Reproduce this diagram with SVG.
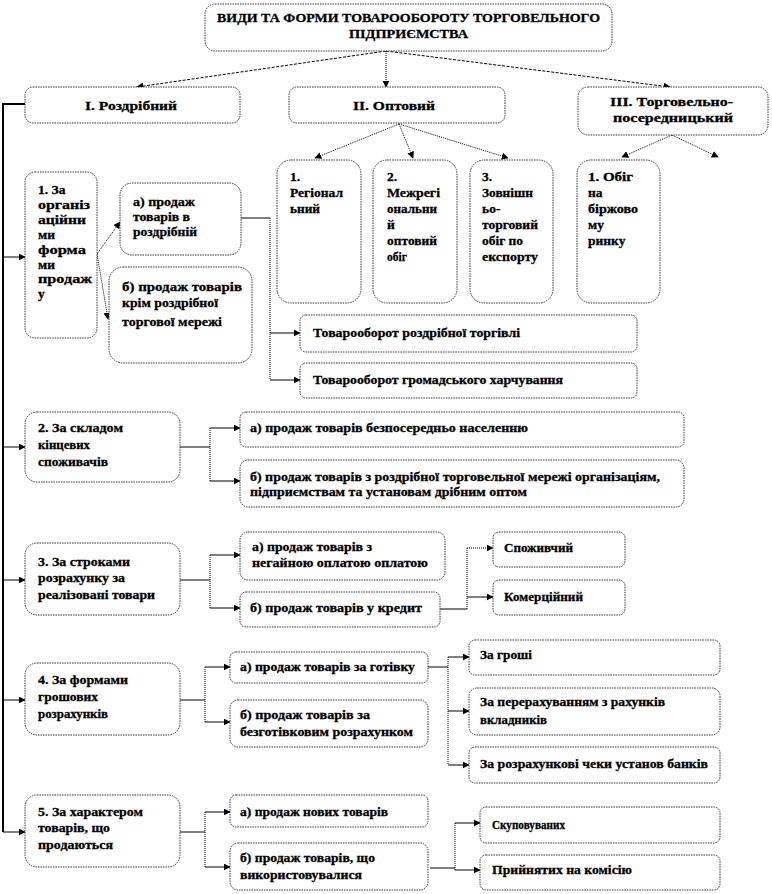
<svg xmlns="http://www.w3.org/2000/svg" width="772" height="894" viewBox="0 0 772 894">
<style>
.b{fill:#fff;stroke:#333;stroke-width:1;stroke-dasharray:1.5 1}
text{font-family:"Liberation Serif","Times New Roman",serif;font-weight:bold;font-size:13.5px;fill:#000;stroke:#000;stroke-width:0.3}
.c{fill:none;stroke:#000;stroke-width:1}
.d{fill:none;stroke:#000;stroke-width:1;stroke-dasharray:1 1}
.h{fill:none;stroke:#000;stroke-width:1;stroke-dasharray:3 1.5}
</style>
<defs>
<marker id="a" viewBox="0 0 10 10" refX="9" refY="5" markerWidth="7" markerHeight="7" orient="auto" markerUnits="userSpaceOnUse">
<path d="M0,0 L10,5 L0,10 z" fill="#000"/>
</marker>
</defs>
<rect width="772" height="894" fill="#fff"/>

<g id="connectors">
<line class="h" x1="386" y1="51" x2="137" y2="87" marker-end="url(#a)"/>
<line class="d" x1="386" y1="51" x2="386" y2="87" marker-end="url(#a)"/>
<line class="h" x1="386" y1="51" x2="670" y2="87" marker-end="url(#a)"/>
<line class="d" x1="399" y1="124" x2="315" y2="158" marker-end="url(#a)"/>
<line class="d" x1="399" y1="124" x2="413" y2="158" marker-end="url(#a)"/>
<line class="d" x1="399" y1="124" x2="508" y2="158" marker-end="url(#a)"/>
<line class="d" x1="672" y1="135" x2="622" y2="157" marker-end="url(#a)"/>
<line class="d" x1="672" y1="135" x2="718" y2="157" marker-end="url(#a)"/>

<path d="M25,104 H3 V832" fill="none" stroke="#000" stroke-width="2"/>
<line class="c" x1="3" y1="257" x2="25" y2="257" marker-end="url(#a)"/>
<line class="c" x1="3" y1="447" x2="25" y2="447" marker-end="url(#a)"/>
<line class="c" x1="3" y1="580" x2="25" y2="580" marker-end="url(#a)"/>
<line class="c" x1="3" y1="700" x2="25" y2="700" marker-end="url(#a)"/>
<line class="c" x1="3" y1="832" x2="25" y2="832" marker-end="url(#a)"/>

<line class="d" x1="97" y1="254" x2="120" y2="222" marker-end="url(#a)"/>
<line class="d" x1="97" y1="254" x2="108" y2="319" marker-end="url(#a)"/>

<path class="c" d="M241,218 H270"/>
<line class="d" x1="270" y1="218" x2="270" y2="380"/>
<line class="c" x1="270" y1="333" x2="300" y2="333" marker-end="url(#a)"/>
<line class="c" x1="270" y1="380" x2="300" y2="380" marker-end="url(#a)"/>

<path class="c" d="M180,447 H210"/>
<line class="d" x1="210" y1="428" x2="210" y2="481"/>
<line class="c" x1="210" y1="428" x2="240" y2="428" marker-end="url(#a)"/>
<line class="c" x1="210" y1="481" x2="240" y2="481" marker-end="url(#a)"/>

<path class="c" d="M180,580 H210"/>
<line class="d" x1="210" y1="555" x2="210" y2="608"/>
<line class="c" x1="210" y1="555" x2="240" y2="555" marker-end="url(#a)"/>
<line class="c" x1="210" y1="608" x2="240" y2="608" marker-end="url(#a)"/>

<path class="c" d="M440,609 H467"/>
<line class="d" x1="467" y1="548" x2="467" y2="609"/>
<line class="d" x1="467" y1="548" x2="493" y2="548" marker-end="url(#a)"/>
<line class="c" x1="467" y1="597" x2="493" y2="597" marker-end="url(#a)"/>

<path class="c" d="M180,700 H205"/>
<line class="d" x1="205" y1="667" x2="205" y2="722"/>
<line class="c" x1="205" y1="667" x2="230" y2="667" marker-end="url(#a)"/>
<line class="c" x1="205" y1="722" x2="230" y2="722" marker-end="url(#a)"/>

<path class="c" d="M428,667 H448"/>
<line class="d" x1="448" y1="657" x2="448" y2="765"/>
<line class="c" x1="448" y1="657" x2="469" y2="657" marker-end="url(#a)"/>
<line class="c" x1="448" y1="711" x2="469" y2="711" marker-end="url(#a)"/>
<line class="c" x1="448" y1="765" x2="469" y2="765" marker-end="url(#a)"/>

<path class="c" d="M180,832 H205"/>
<line class="d" x1="205" y1="812" x2="205" y2="867"/>
<line class="c" x1="205" y1="812" x2="230" y2="812" marker-end="url(#a)"/>
<line class="c" x1="205" y1="867" x2="230" y2="867" marker-end="url(#a)"/>

<path class="c" d="M430,868 H455"/>
<line class="d" x1="455" y1="823" x2="455" y2="870"/>
<line class="c" x1="455" y1="823" x2="480" y2="823" marker-end="url(#a)"/>
<line class="c" x1="455" y1="870" x2="480" y2="870" marker-end="url(#a)"/>
</g>

<g id="title"><rect class="b" x="205" y="4" width="407" height="47" rx="10"/>
<text x="217" y="22" textLength="383" lengthAdjust="spacingAndGlyphs">ВИДИ ТА ФОРМИ ТОВАРООБОРОТУ ТОРГОВЕЛЬНОГО</text>
<text x="349" y="38" textLength="119" lengthAdjust="spacingAndGlyphs">ПІДПРИЄМСТВА</text></g>

<g id="n-retail"><rect class="b" x="25" y="87" width="215" height="36" rx="8"/>
<text x="85" y="110" textLength="92" lengthAdjust="spacingAndGlyphs">І. Роздрібний</text></g>
<g id="n-wholesale"><rect class="b" x="289" y="87" width="216" height="36" rx="8"/>
<text x="353" y="110" textLength="82" lengthAdjust="spacingAndGlyphs">ІІ. Оптовий</text></g>
<g id="n-intermed"><rect class="b" x="578" y="87" width="190" height="48" rx="10"/>
<text x="610" y="106" textLength="123" lengthAdjust="spacingAndGlyphs">ІІІ. Торговельно-</text>
<text x="613" y="122" textLength="120" lengthAdjust="spacingAndGlyphs">посередницький</text></g>

<g id="w1"><rect class="b" x="277" y="160" width="84" height="143" rx="14"/>
<text x="290" y="181">1.</text>
<text x="290" y="197" textLength="53" lengthAdjust="spacingAndGlyphs">Регіонал</text>
<text x="290" y="213" textLength="30" lengthAdjust="spacingAndGlyphs">ьний</text></g>
<g id="w2"><rect class="b" x="373" y="160" width="84" height="143" rx="14"/>
<text x="387" y="181">2.</text>
<text x="387" y="197" textLength="53" lengthAdjust="spacingAndGlyphs">Межрегі</text>
<text x="387" y="213" textLength="50" lengthAdjust="spacingAndGlyphs">ональни</text>
<text x="387" y="229">й</text>
<text x="387" y="245" textLength="50" lengthAdjust="spacingAndGlyphs">оптовий</text>
<text x="387" y="261" textLength="20" lengthAdjust="spacingAndGlyphs">обіг</text></g>
<g id="w3"><rect class="b" x="470" y="160" width="83" height="143" rx="14"/>
<text x="482" y="181">3.</text>
<text x="482" y="197" textLength="51" lengthAdjust="spacingAndGlyphs">Зовнішн</text>
<text x="482" y="213">ьо-</text>
<text x="482" y="229" textLength="56" lengthAdjust="spacingAndGlyphs">торговий</text>
<text x="482" y="245" textLength="41" lengthAdjust="spacingAndGlyphs">обіг по</text>
<text x="482" y="261" textLength="56" lengthAdjust="spacingAndGlyphs">експорту</text></g>
<g id="i1"><rect class="b" x="577" y="160" width="83" height="143" rx="14"/>
<text x="588" y="181" textLength="45" lengthAdjust="spacingAndGlyphs">1. Обіг</text>
<text x="588" y="197">на</text>
<text x="588" y="213" textLength="50" lengthAdjust="spacingAndGlyphs">біржово</text>
<text x="588" y="229">му</text>
<text x="588" y="245">ринку</text></g>

<g id="r1"><rect class="b" x="25" y="172" width="72" height="166" rx="10"/>
<text x="38" y="194">1. За</text>
<text x="38" y="209" textLength="52" lengthAdjust="spacingAndGlyphs">організ</text>
<text x="38" y="224" textLength="48" lengthAdjust="spacingAndGlyphs">аційни</text>
<text x="38" y="239">ми</text>
<text x="38" y="254" textLength="48" lengthAdjust="spacingAndGlyphs">форма</text>
<text x="38" y="269">ми</text>
<text x="38" y="283" textLength="54" lengthAdjust="spacingAndGlyphs">продаж</text>
<text x="38" y="298">у</text></g>
<g id="r1a"><rect class="b" x="120" y="183" width="121" height="72" rx="12"/>
<text x="133" y="206" textLength="62" lengthAdjust="spacingAndGlyphs">а) продаж</text>
<text x="133" y="221" textLength="57" lengthAdjust="spacingAndGlyphs">товарів в</text>
<text x="133" y="236" textLength="64" lengthAdjust="spacingAndGlyphs">роздрібній</text></g>
<g id="r1b"><rect class="b" x="109" y="267" width="143" height="96" rx="14"/>
<text x="122" y="291" textLength="120" lengthAdjust="spacingAndGlyphs">б) продаж товарів</text>
<text x="122" y="307" textLength="96" lengthAdjust="spacingAndGlyphs">крім роздрібної</text>
<text x="122" y="326" textLength="100" lengthAdjust="spacingAndGlyphs">торгової мережі</text></g>
<g id="r1a1"><rect class="b" x="300" y="315" width="337" height="37" rx="6"/>
<text x="313" y="337" textLength="207" lengthAdjust="spacingAndGlyphs">Товарооборот роздрібної  торгівлі</text></g>
<g id="r1a2"><rect class="b" x="300" y="363" width="337" height="35" rx="6"/>
<text x="313" y="384" textLength="250" lengthAdjust="spacingAndGlyphs">Товарооборот громадського харчування</text></g>

<g id="r2"><rect class="b" x="25" y="412" width="155" height="70" rx="12"/>
<text x="38" y="432" textLength="85" lengthAdjust="spacingAndGlyphs">2. За складом</text>
<text x="38" y="449" textLength="52" lengthAdjust="spacingAndGlyphs">кінцевих</text>
<text x="38" y="466" textLength="70" lengthAdjust="spacingAndGlyphs">споживачів</text></g>
<g id="r2a"><rect class="b" x="240" y="412" width="444" height="35" rx="6"/>
<text x="250" y="432" textLength="278" lengthAdjust="spacingAndGlyphs">а) продаж товарів  безпосередньо населенню</text></g>
<g id="r2b"><rect class="b" x="240" y="460" width="444" height="47" rx="8"/>
<text x="250" y="481" textLength="410" lengthAdjust="spacingAndGlyphs">б) продаж товарів з роздрібної  торговельної мережі організаціям,</text>
<text x="250" y="496" textLength="277" lengthAdjust="spacingAndGlyphs">підприємствам та установам дрібним оптом</text></g>

<g id="r3"><rect class="b" x="25" y="543" width="155" height="72" rx="12"/>
<text x="38" y="566" textLength="92" lengthAdjust="spacingAndGlyphs">3. За строками</text>
<text x="38" y="582" textLength="87" lengthAdjust="spacingAndGlyphs">розрахунку за</text>
<text x="38" y="599" textLength="117" lengthAdjust="spacingAndGlyphs">реалізовані товари</text></g>
<g id="r3a"><rect class="b" x="240" y="532" width="205" height="48" rx="8"/>
<text x="252" y="551" textLength="120" lengthAdjust="spacingAndGlyphs">а) продаж товарів з</text>
<text x="252" y="567" textLength="176" lengthAdjust="spacingAndGlyphs">негайною  оплатою оплатою</text></g>
<g id="r3b"><rect class="b" x="240" y="592" width="200" height="35" rx="6"/>
<text x="250" y="612" textLength="172" lengthAdjust="spacingAndGlyphs">б) продаж товарів  у кредит</text></g>
<g id="r3b1"><rect class="b" x="493" y="532" width="132" height="35" rx="6"/>
<text x="504" y="552" textLength="69" lengthAdjust="spacingAndGlyphs">Споживчий</text></g>
<g id="r3b2"><rect class="b" x="493" y="580" width="132" height="35" rx="6"/>
<text x="504" y="601" textLength="79" lengthAdjust="spacingAndGlyphs">Комерційний</text></g>

<g id="r4"><rect class="b" x="25" y="663" width="155" height="72" rx="12"/>
<text x="38" y="684" textLength="90" lengthAdjust="spacingAndGlyphs">4. За формами</text>
<text x="38" y="701" textLength="60" lengthAdjust="spacingAndGlyphs">грошових</text>
<text x="38" y="718" textLength="70" lengthAdjust="spacingAndGlyphs">розрахунків</text></g>
<g id="r4a"><rect class="b" x="230" y="652" width="198" height="31" rx="6"/>
<text x="240" y="671" textLength="175" lengthAdjust="spacingAndGlyphs">а) продаж товарів  за готівку</text></g>
<g id="r4b"><rect class="b" x="230" y="700" width="198" height="47" rx="8"/>
<text x="240" y="719" textLength="130" lengthAdjust="spacingAndGlyphs">б) продаж товарів  за</text>
<text x="240" y="736" textLength="173" lengthAdjust="spacingAndGlyphs">безготівковим розрахунком</text></g>
<g id="r4a1"><rect class="b" x="469" y="640" width="251" height="35" rx="6"/>
<text x="480" y="659" textLength="52" lengthAdjust="spacingAndGlyphs">За гроші</text></g>
<g id="r4a2"><rect class="b" x="469" y="688" width="251" height="47" rx="8"/>
<text x="480" y="706" textLength="185" lengthAdjust="spacingAndGlyphs">За перерахуванням з рахунків</text>
<text x="480" y="724" textLength="67" lengthAdjust="spacingAndGlyphs">вкладників</text></g>
<g id="r4a3"><rect class="b" x="469" y="747" width="251" height="36" rx="6"/>
<text x="480" y="768" textLength="228" lengthAdjust="spacingAndGlyphs">За розрахункові  чеки установ банків</text></g>

<g id="r5"><rect class="b" x="25" y="795" width="155" height="72" rx="12"/>
<text x="38" y="816" textLength="105" lengthAdjust="spacingAndGlyphs">5. За характером</text>
<text x="38" y="832" textLength="72" lengthAdjust="spacingAndGlyphs">товарів, що</text>
<text x="38" y="849" textLength="75" lengthAdjust="spacingAndGlyphs">продаються</text></g>
<g id="r5a"><rect class="b" x="230" y="795" width="198" height="32" rx="6"/>
<text x="240" y="816" textLength="148" lengthAdjust="spacingAndGlyphs">а) продаж нових  товарів</text></g>
<g id="r5b"><rect class="b" x="230" y="843" width="198" height="47" rx="8"/>
<text x="240" y="862" textLength="135" lengthAdjust="spacingAndGlyphs">б) продаж товарів, що</text>
<text x="240" y="879" textLength="122" lengthAdjust="spacingAndGlyphs">використовувалися</text></g>
<g id="r5b1"><rect class="b" x="480" y="807" width="240" height="36" rx="6"/>
<text x="492" y="829" textLength="73" lengthAdjust="spacingAndGlyphs">Скуповуваних</text></g>
<g id="r5b2"><rect class="b" x="480" y="855" width="240" height="35" rx="6"/>
<text x="492" y="874" textLength="140" lengthAdjust="spacingAndGlyphs">Прийнятих  на комісію</text></g>
</svg>
